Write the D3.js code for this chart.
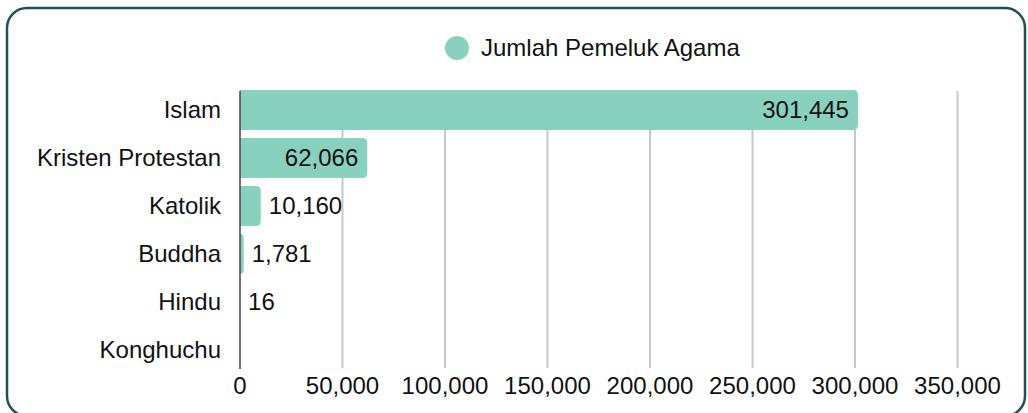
<!DOCTYPE html>
<html>
<head>
<meta charset="utf-8">
<script src="https://cdn.jsdelivr.net/npm/d3@7"></script>
<style>
  body { margin: 0; background: #fff; }
  text { font-family: "Liberation Sans", Arial, sans-serif; fill: #111; }
</style>
</head>
<body>
<script>
const categories = ['Islam', 'Kristen Protestan', 'Katolik', 'Buddha', 'Hindu', 'Konghuchu'];
const values = [301445, 62066, 10160, 1781, 16, 0];
const seriesName = 'Jumlah Pemeluk Agama';
const ticks = [0, 50000, 100000, 150000, 200000, 250000, 300000, 350000];

const svgWidth = 1028, svgHeight = 413;
const fontSize = 24;
const barColor = '#88d1bf';

const svg = d3.select('body')
  .append('svg')
  .attr('width', svgWidth)
  .attr('height', svgHeight);

// card border
svg.append('rect')
  .attr('x', 7).attr('y', 8)
  .attr('width', 1018).attr('height', 408)
  .attr('rx', 20)
  .attr('fill', '#fff')
  .attr('stroke', '#1b5258')
  .attr('stroke-width', 2.5);

const x = d3.scaleLinear()
  .domain([0, 350000])
  .range([240, 957.5]);

const y = d3.scaleBand()
  .domain(categories)
  .range([86, 374])
  .paddingInner(0.167)
  .paddingOuter(0.083);

// gridlines
svg.append('g')
  .selectAll('line')
  .data(ticks.slice(1))
  .enter()
  .append('line')
  .attr('x1', d => x(d)).attr('x2', d => x(d))
  .attr('y1', 91).attr('y2', 368)
  .attr('stroke', '#c8c8c8')
  .attr('stroke-width', 2);

// bars, rounded on the right end
const r = 5;
function barPath(d, i) {
  const x0 = x(0), x1 = x(d), y0 = y(categories[i]), h = y.bandwidth();
  const w = x1 - x0;
  if (w <= 0) return '';
  const rr = Math.min(r, w, h / 2);
  return `M${x0},${y0}H${x1 - rr}Q${x1},${y0} ${x1},${y0 + rr}` +
    `V${y0 + h - rr}Q${x1},${y0 + h} ${x1 - rr},${y0 + h}H${x0}Z`;
}

svg.append('g')
  .selectAll('path')
  .data(values)
  .enter()
  .append('path')
  .attr('d', barPath)
  .attr('fill', barColor);

// baseline
svg.append('line')
  .attr('x1', x(0)).attr('x2', x(0))
  .attr('y1', 91).attr('y2', 369)
  .attr('stroke', '#444')
  .attr('stroke-width', 1.5);

// category labels
svg.append('g')
  .selectAll('text')
  .data(categories)
  .enter()
  .append('text')
  .attr('x', 221)
  .attr('y', d => y(d) + y.bandwidth() / 2)
  .attr('dy', '0.35em')
  .attr('text-anchor', 'end')
  .style('font-size', fontSize + 'px')
  .text(d => d);

// value labels
const fmt = d3.format(',');
svg.append('g')
  .selectAll('text')
  .data(values.map((v, i) => ({ v, c: categories[i] })).filter(d => d.v > 0))
  .enter()
  .append('text')
  .each(function (d) {
    const t = d3.select(this)
      .attr('y', y(d.c) + y.bandwidth() / 2)
      .attr('dy', '0.35em')
      .style('font-size', fontSize + 'px')
      .text(fmt(d.v));
    const tw = this.getComputedTextLength();
    const bw = x(d.v) - x(0);
    if (tw + 18 < bw) {
      t.attr('x', x(d.v) - 9).attr('text-anchor', 'end');
    } else {
      t.attr('x', x(d.v) + 8).attr('text-anchor', 'start');
    }
  });

// x tick labels
svg.append('g')
  .selectAll('text')
  .data(ticks)
  .enter()
  .append('text')
  .attr('x', d => x(d))
  .attr('y', 386)
  .attr('dy', '0.35em')
  .attr('text-anchor', 'middle')
  .style('font-size', fontSize + 'px')
  .text(d => fmt(d));

// legend
const legend = svg.append('g');
legend.append('circle')
  .attr('cx', 457).attr('cy', 48)
  .attr('r', 12)
  .attr('fill', barColor);
legend.append('text')
  .attr('x', 481).attr('y', 48)
  .attr('dy', '0.35em')
  .style('font-size', fontSize + 'px')
  .text(seriesName);
</script>
</body>
</html>
